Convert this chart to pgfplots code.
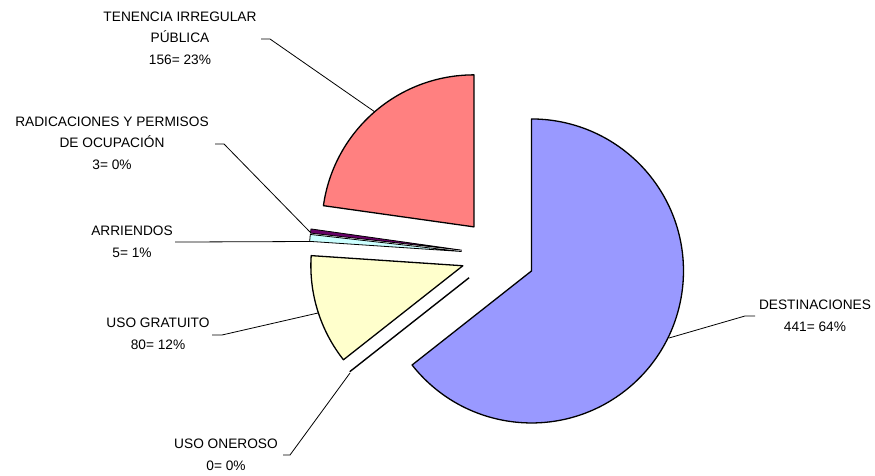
\documentclass[border=0pt]{standalone}
\usepackage{fontspec}
\setmainfont{Liberation Sans}
\usepackage{pgfplots}
\pgfplotsset{compat=1.18}
\definecolor{cDes}{HTML}{9999FF}
\definecolor{cTen}{HTML}{FF8080}
\definecolor{cGra}{HTML}{FFFFCC}
\definecolor{cArr}{HTML}{CCFFFF}
\definecolor{cRad}{HTML}{660066}
\newcommand\lbl{\fontsize{13.7}{21.5}\selectfont}
\begin{document}
\begin{tikzpicture}
% data values
\def\vTen{156}\def\vRad{3}\def\vArr{5}\def\vGra{80}\def\vOne{0}\def\vDes{441}
\pgfmathsetmacro\tot{\vTen+\vRad+\vArr+\vGra+\vOne+\vDes}
\pgfmathsetmacro\tA{90}
\pgfmathsetmacro\tB{\tA+360*(\vTen/\tot)}
\pgfmathsetmacro\tC{\tB+360*(\vRad/\tot)}
\pgfmathsetmacro\tD{\tC+360*(\vArr/\tot)}
\pgfmathsetmacro\tE{\tD+360*(\vGra/\tot)}
\pgfmathsetmacro\tF{\tE+360*(\vOne/\tot)}
\pgfmathsetmacro\tG{\tF+360*(\vDes/\tot)}
\def\R{152}\def\E{37}\def\cx{498.2}\def\cy{220.2}
\pgfmathsetmacro\xTen{\cx+\E*cos((\tA+\tB)/2)}\pgfmathsetmacro\yTen{\cy+\E*sin((\tA+\tB)/2)}
\pgfmathsetmacro\xRad{\cx+\E*cos((\tB+\tC)/2)}\pgfmathsetmacro\yRad{\cy+\E*sin((\tB+\tC)/2)}
\pgfmathsetmacro\xArr{\cx+\E*cos((\tC+\tD)/2)}\pgfmathsetmacro\yArr{\cy+\E*sin((\tC+\tD)/2)}
\pgfmathsetmacro\xGra{\cx+\E*cos((\tD+\tE)/2)}\pgfmathsetmacro\yGra{\cy+\E*sin((\tD+\tE)/2)}
\pgfmathsetmacro\xOne{\cx+\E*cos((\tE+\tF)/2)}\pgfmathsetmacro\yOne{\cy+\E*sin((\tE+\tF)/2)}
\pgfmathsetmacro\xDes{\cx+\E*cos((\tF+\tG)/2)}\pgfmathsetmacro\yDes{\cy+\E*sin((\tF+\tG)/2)}
\begin{axis}[x=1pt,y=1pt,xmin=0,xmax=875,ymin=0,ymax=475,hide axis,clip=false,scale only axis]
\addplot[draw=none] coordinates {(0,0) (875,475)};
\path (axis cs:0,0) rectangle (axis cs:875,475);
% slices
\filldraw[fill=cDes,draw=black,line width=1.3pt,line join=round] (axis cs:\xDes,\yDes) -- ++(\tF:\R pt) arc[start angle=\tF,end angle=\tG,radius=\R pt] -- cycle;
\filldraw[fill=cTen,draw=black,line width=1.3pt,line join=round] (axis cs:\xTen,\yTen) -- ++(\tA:\R pt) arc[start angle=\tA,end angle=\tB,radius=\R pt] -- cycle;
\filldraw[fill=cGra,draw=black,line width=1.3pt,line join=round] (axis cs:\xGra,\yGra) -- ++(\tD:\R pt) arc[start angle=\tD,end angle=\tE,radius=\R pt] -- cycle;
\filldraw[fill=cArr,draw=black,line width=0.8pt,line join=round] (axis cs:\xArr,\yArr) -- ++(\tC:\R pt) arc[start angle=\tC,end angle=\tD,radius=\R pt] -- cycle;
\filldraw[fill=cRad,draw=black,line width=0.8pt,line join=round] (axis cs:\xRad,\yRad) -- ++(\tB:\R pt) arc[start angle=\tB,end angle=\tC,radius=\R pt] -- cycle;
\draw[black,line width=1.4pt] (axis cs:\xOne,\yOne) -- ++(\tE:\R pt);
% leader lines
\draw[black,line width=0.8pt] (axis cs:261,436) -- (axis cs:270,436) -- (axis cs:375,363);
\draw[black,line width=0.8pt] (axis cs:215,331) -- (axis cs:224,331) -- (axis cs:310,243);
\draw[black,line width=0.8pt] (axis cs:175,233) -- (axis cs:184,233) -- (axis cs:310,233.5);
\draw[black,line width=0.8pt] (axis cs:212,140) -- (axis cs:222,140) -- (axis cs:318,162);
\draw[black,line width=0.8pt] (axis cs:283,20) -- (axis cs:290,20) -- (axis cs:350,102);
\draw[black,line width=0.8pt] (axis cs:755,159) -- (axis cs:745,159) -- (axis cs:669,137);
% labels
\node[align=center,font=\lbl] at (axis cs:180,437) {TENENCIA IRREGULAR\\PÚBLICA\\156= 23\%};
\node[align=center,font=\lbl] at (axis cs:112,332) {RADICACIONES Y PERMISOS\\DE OCUPACIÓN\\3= 0\%};
\node[align=center,font=\lbl] at (axis cs:132,233.25) {ARRIENDOS\\5= 1\%};
\node[align=center,font=\lbl] at (axis cs:158,141) {USO GRATUITO\\80= 12\%};
\node[align=center,font=\lbl] at (axis cs:226,20) {USO ONEROSO\\0= 0\%};
\node[align=center,font=\lbl] at (axis cs:815,159) {DESTINACIONES\\441= 64\%};
\end{axis}
\end{tikzpicture}
\end{document}
